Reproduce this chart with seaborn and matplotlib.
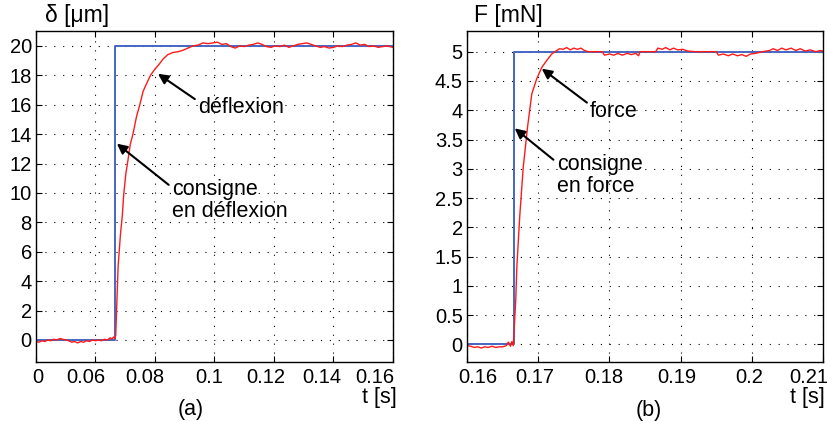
import matplotlib
matplotlib.use("Agg")
import matplotlib.pyplot as plt
import matplotlib.transforms as mtransforms
import seaborn as sns

# ---- data ----
# (a) deflexion step: setpoint and measured response
t_set_a = [0.040, 0.0667, 0.0667, 0.160]
d_set_a = [0.0, 0.0, 20.0, 20.0]

t_def = [0.040, 0.041, 0.042, 0.043, 0.044, 0.045, 0.046, 0.047, 0.048, 0.049,
         0.050, 0.051, 0.052, 0.053, 0.054, 0.055, 0.056, 0.057, 0.058, 0.059,
         0.060, 0.061, 0.062, 0.063, 0.064, 0.065, 0.0655, 0.066, 0.0665, 0.0668,
         0.0676, 0.0684, 0.0690, 0.0695, 0.0702, 0.0709, 0.0717, 0.0726, 0.0738,
         0.0749, 0.0760, 0.0771, 0.0785, 0.0799, 0.0812, 0.0827, 0.0843, 0.0860,
         0.0877, 0.0894, 0.0911, 0.0928, 0.0945, 0.0961, 0.0978,
         0.0995, 0.101, 0.1025, 0.104, 0.1055, 0.107, 0.1085, 0.110, 0.1115,
         0.113, 0.1145, 0.116, 0.1175, 0.119, 0.1205, 0.122, 0.1235, 0.125,
         0.1265, 0.128, 0.1295, 0.131, 0.1325, 0.134, 0.1355, 0.137, 0.1385,
         0.140, 0.1415, 0.143, 0.1445, 0.146, 0.1475, 0.149, 0.1505, 0.152,
         0.1535, 0.155, 0.1565, 0.158, 0.160]
d_def = [-0.1, -0.15, -0.05, -0.1, 0.0, -0.05, 0.05, 0.0, 0.1, 0.05,
         0.0, -0.05, -0.15, -0.1, -0.2, -0.1, -0.15, -0.05, -0.1, 0.0,
         -0.05, 0.0, -0.05, 0.05, 0.0, 0.15, 0.05, 0.2, 0.1, 0.3,
         4.97, 7.2, 8.4, 9.9, 11.3, 12.2, 13.3, 14.0, 15.2,
         16.0, 16.9, 17.4, 18.0, 18.4, 18.7, 19.1, 19.4, 19.55,
         19.6, 19.7, 19.85, 20.0, 20.05, 20.2, 20.15,
         20.2, 20.25, 20.1, 20.15, 19.95, 19.85, 20.0, 19.95, 20.05,
         20.1, 20.2, 20.1, 19.95, 19.9, 20.0, 19.95, 20.05, 19.9,
         20.0, 20.1, 20.15, 20.2, 20.1, 20.0, 19.9, 19.95, 19.85,
         19.9, 20.0, 19.95, 20.05, 20.1, 20.2, 20.05, 20.1, 19.95,
         20.0, 19.9, 19.95, 20.0, 19.9]

# (b) force step: setpoint and measured response
t_set_b = [0.160, 0.1666, 0.1666, 0.210]
f_set_b = [0.0, 0.0, 5.0, 5.0]

t_frc = [0.1600, 0.1605, 0.1610, 0.1615, 0.1620, 0.1625, 0.1630, 0.1635,
         0.1640, 0.1645, 0.1650, 0.1655, 0.1658, 0.1661, 0.1663, 0.1665,
         0.16685, 0.1670, 0.1674, 0.1679, 0.1685, 0.1691, 0.1698, 0.1705,
         0.1712, 0.1719,
         0.1726, 0.1730, 0.1735, 0.1740, 0.1745, 0.1750, 0.1755, 0.1760,
         0.1765, 0.1770, 0.1790, 0.1793, 0.1800, 0.1806, 0.1812, 0.1818,
         0.1825, 0.1831, 0.1837, 0.1841, 0.1843, 0.1865, 0.1868, 0.1874,
         0.1879, 0.1885, 0.1890, 0.1896, 0.1903, 0.1910, 0.1920, 0.1950,
         0.1953, 0.1960, 0.1967, 0.1973, 0.1980, 0.1986, 0.1992, 0.1998,
         0.2005, 0.2015, 0.2025, 0.2030, 0.2036, 0.2042, 0.2048, 0.2055,
         0.2062, 0.2068, 0.2075, 0.2082, 0.2090, 0.2096, 0.2103]
f_frc = [-0.02, -0.03, -0.05, -0.04, -0.06, -0.04, -0.05, -0.03,
         -0.05, -0.04, -0.04, -0.02, 0.04, -0.03, 0.05, -0.02,
         0.77, 1.33, 2.18, 3.03, 3.71, 4.28, 4.54, 4.73,
         4.85, 4.96,
         5.02, 5.05, 5.04, 5.07, 5.03, 5.06, 5.04, 5.06,
         5.02, 5.0, 5.0, 4.94, 4.96, 4.94, 4.97, 4.94,
         4.97, 4.95, 4.97, 4.93, 5.0, 5.0, 5.06, 5.04,
         5.07, 5.03, 5.06, 5.03, 5.04, 5.01, 5.0, 5.0,
         4.94, 4.96, 4.93, 4.96, 4.93, 4.95, 4.92, 4.96,
         4.97, 5.0, 5.02, 5.05, 5.02, 5.06, 5.03, 5.06,
         5.02, 5.05, 5.01, 5.03, 5.0, 5.02, 5.0]

xt_a = [0.04, 0.06, 0.08, 0.10, 0.12, 0.14, 0.16]
xl_a = ["0", "0.06", "0.08", "0.1", "0.12", "0.14", "0.16"]
yt_a = [0, 2, 4, 6, 8, 10, 12, 14, 16, 18, 20]

xt_b = [0.16, 0.17, 0.18, 0.19, 0.20, 0.21]
xl_b = ["0.16", "0.17", "0.18", "0.19", "0.2", "0.21"]
yt_b = [0, 0.5, 1, 1.5, 2, 2.5, 3, 3.5, 4, 4.5, 5]
yl_b = ["0", "0.5", "1", "1.5", "2", "2.5", "3", "3.5", "4", "4.5", "5"]

sns.set_style("ticks")
plt.rcParams["font.family"] = ["Liberation Sans", "DejaVu Sans"]
plt.rcParams["font.size"] = 15.5
plt.rcParams["text.color"] = "black"
plt.rcParams["xtick.color"] = "black"
plt.rcParams["ytick.color"] = "black"

FS = 15.5      # annotations / axis words
TFS = 14.5     # tick labels
BLUE = "#4566c4"
RED = "#ff1a1a"

fig = plt.figure(figsize=(8.27, 4.21), dpi=100)
ax_a = fig.add_axes([0.0435, 0.140, 0.4317, 0.786])
ax_b = fig.add_axes([0.5647, 0.140, 0.4305, 0.786])


def style_axes(ax, x_shift_px):
    ax.tick_params(direction="in", top=True, right=True, length=4,
                   labelsize=TFS, width=0.8)
    ax.tick_params(axis="x", pad=4)
    ax.tick_params(axis="y", pad=3)
    ax.grid(True, color="black", linestyle=(0, (1, 7)), linewidth=0.8)
    for s in ax.spines.values():
        s.set_linewidth(1.0)
        s.set_color("black")
    ax.set_xlabel("")
    ax.set_ylabel("")
    # the original figure has its x tick labels nudged sideways a bit
    for lab, dx in zip(ax.get_xticklabels(), x_shift_px):
        off = mtransforms.ScaledTranslation(dx / 100, 0, fig.dpi_scale_trans)
        lab.set_transform(lab.get_transform() + off)


arrow = dict(arrowstyle="-|>", color="black", lw=1.5,
             mutation_scale=15, shrinkA=0, shrinkB=0)

# ---- (a) deflexion ----
sns.lineplot(x=t_set_a, y=d_set_a, ax=ax_a, color=BLUE, linewidth=1.4,
             sort=False, estimator=None)
sns.lineplot(x=t_def, y=d_def, ax=ax_a, color=RED, linewidth=1.0,
             sort=False, estimator=None)
ax_a.set_xlim(0.04, 0.16)
ax_a.set_ylim(-1.5, 21)
ax_a.set_xticks(xt_a)
ax_a.set_xticklabels(xl_a)
ax_a.set_yticks(yt_a)
style_axes(ax_a, [1.5, -10, -10, -5, -8, -12, -18])

ax_a.annotate("déflexion", xy=(0.0810, 18.1), xytext=(0.0945, 15.8),
              va="center", ha="left", fontsize=FS,
              arrowprops=dict(arrow, relpos=(0, 0.8)))
ax_a.annotate("consigne\nen déflexion", xy=(0.0672, 13.35), xytext=(0.0857, 9.5),
              va="center", ha="left", fontsize=FS, linespacing=1.05,
              arrowprops=dict(arrow, relpos=(0, 0.8)))
ax_a.text(0.025, 1.012, "δ [μm]", transform=ax_a.transAxes, fontsize=16.5,
          ha="left", va="bottom")
ax_a.text(1.01, -0.108, "t [s]", transform=ax_a.transAxes, fontsize=FS,
          ha="right", va="center")
ax_a.text(0.432, -0.143, "(a)", transform=ax_a.transAxes, fontsize=FS,
          ha="center", va="center")

# ---- (b) force ----
sns.lineplot(x=t_set_b, y=f_set_b, ax=ax_b, color=BLUE, linewidth=1.4,
             sort=False, estimator=None)
sns.lineplot(x=t_frc, y=f_frc, ax=ax_b, color=RED, linewidth=1.0,
             sort=False, estimator=None)
ax_b.set_xlim(0.16, 0.21)
ax_b.set_ylim(-0.3, 5.35)
ax_b.set_xticks(xt_b)
ax_b.set_xticklabels(xl_b)
ax_b.set_yticks(yt_b)
ax_b.set_yticklabels(yl_b)
style_axes(ax_b, [11, -3, -6, -4, -3, -14])

ax_b.annotate("force", xy=(0.1705, 4.71), xytext=(0.1773, 3.98),
              va="center", ha="left", fontsize=FS,
              arrowprops=dict(arrow, relpos=(0, 0.8)))
ax_b.annotate("consigne\nen force", xy=(0.1667, 3.69), xytext=(0.1726, 2.89),
              va="center", ha="left", fontsize=FS, linespacing=1.05,
              arrowprops=dict(arrow, relpos=(0, 0.8)))
ax_b.text(0.02, 1.012, "F [mN]", transform=ax_b.transAxes, fontsize=16.5,
          ha="left", va="bottom")
ax_b.text(1.005, -0.108, "t [s]", transform=ax_b.transAxes, fontsize=FS,
          ha="right", va="center")
ax_b.text(0.51, -0.146, "(b)", transform=ax_b.transAxes, fontsize=FS,
          ha="center", va="center")

fig.savefig("out.png", dpi=100)
